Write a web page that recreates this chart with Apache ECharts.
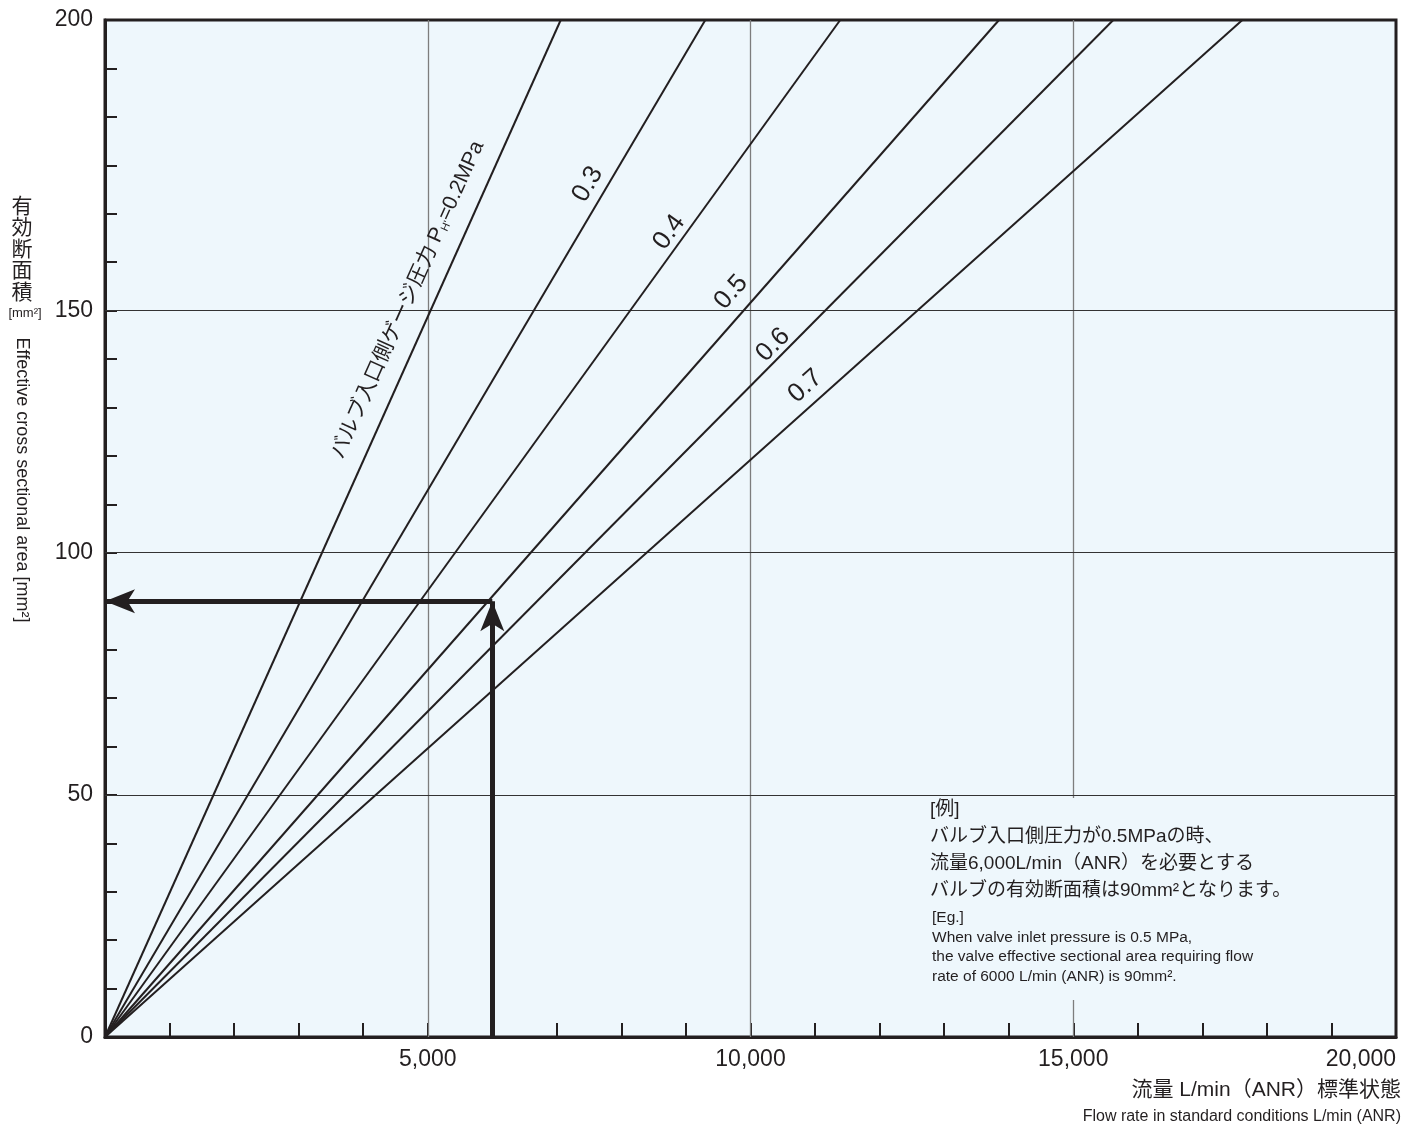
<!DOCTYPE html>
<html>
<head>
<meta charset="utf-8">
<title>有効断面積</title>
<script src="https://cdn.jsdelivr.net/npm/echarts@6.0.0/dist/echarts.min.js"></script>
<style>
  html, body { margin: 0; padding: 0; background: #fff; }
  #chart { width: 1418px; height: 1126px; }
</style>
</head>
<body>
<div id="chart"></div>
<script>
// inlet gauge pressure (MPa) of each line
var pressures = ['0.2', '0.3', '0.4', '0.5', '0.6', '0.7'];
// flow rate (L/min) where each line leaves the top of the plot
var flowAtTop = [7060, 9300, 11390, 13850, 15620, 17620];
var areaTop = 210;
// where the pressure labels sit along the lines
var labelFlow = [4690, 7480, 8740, 9700, 10350, 10850];
var labelArea = [152.2, 176.1, 166.2, 153.8, 142.9, 134.4];
// worked example: 6000 L/min at 0.5 MPa -> 90 mm2
var exampleFlow = 6000;
var exampleArea = 90;
// grid lines
var gridFlow = [5000, 10000, 15000];
var gridArea = [50, 100, 150];
// y tick labels (the top edge is printed as 200)
var yTickText = { 0: '0', 50: '50', 100: '100', 150: '150', 210: '200' };

var ink = '#231f20';
var latin = '"Liberation Sans", Arial, sans-serif';
var cjk = '"Liberation Sans", "Noto Sans CJK JP", sans-serif';

var myChart = echarts.init(document.getElementById('chart'));

var series = pressures.map(function (p, i) {
  return {
    name: p,
    type: 'line',
    data: [[0, 0], [flowAtTop[i], areaTop]],
    showSymbol: false,
    lineStyle: { color: ink, width: 2 },
    z: 3,
    silent: true
  };
});

// grid lines hang off the first series
series[0].markLine = {
  silent: true,
  symbol: ['none', 'none'],
  label: { show: false },
  z: 1,
  data: gridFlow.map(function (v) {
    return { xAxis: v, lineStyle: { color: '#7d7d7d', width: 1.3, type: 'solid' } };
  }).concat(gridArea.map(function (v) {
    return { yAxis: v, lineStyle: { color: '#333', width: 1.2, type: 'solid' } };
  }))
};

series.push({
  name: 'example',
  type: 'line',
  data: [],
  silent: true,
  markLine: {
    silent: true,
    symbol: ['none', 'arrow'],
    symbolSize: [18, 30],
    label: { show: false },
    lineStyle: { color: ink, width: 5, type: 'solid' },
    itemStyle: { color: ink },
    z: 5,
    data: [
      [{ coord: [exampleFlow, 0] }, { coord: [exampleFlow, exampleArea] }],
      [{ coord: [exampleFlow, exampleArea] }, { coord: [0, exampleArea] }]
    ]
  }
});

var option = {
  animation: false,
  grid: {
    left: 105,
    right: 22,
    top: 20,
    bottom: 89,
    outerBoundsMode: 'none',
    containLabel: false,
    show: true,
    backgroundColor: '#eef7fc',
    borderColor: ink,
    borderWidth: 3
  },
  xAxis: {
    type: 'value',
    min: 0,
    max: 20000,
    interval: 1000,
    axisLine: { lineStyle: { color: ink, width: 3 } },
    axisTick: { inside: true, length: 14, lineStyle: { color: ink, width: 2 } },
    splitLine: { show: false },
    axisLabel: {
      color: ink,
      fontSize: 23,
      fontFamily: latin,
      margin: 11,
      alignMaxLabel: 'right',
      formatter: function (v) {
        return v % 5000 === 0 && v > 0 ? v.toLocaleString('en-US') : '';
      }
    }
  },
  yAxis: {
    type: 'value',
    min: 0,
    max: areaTop,
    interval: 10,
    axisLine: { lineStyle: { color: ink, width: 3 } },
    axisTick: { inside: true, length: 12, lineStyle: { color: ink, width: 2 } },
    splitLine: { show: false },
    axisLabel: {
      color: ink,
      fontSize: 23,
      fontFamily: latin,
      margin: 12,
      formatter: function (v) {
        return yTickText[v] !== undefined ? yTickText[v] : '';
      }
    }
  },
  series: series
};
myChart.setOption(option);

// text laid over the plot
function labels() {
  var g = [];
  pressures.forEach(function (p, i) {
    var a = myChart.convertToPixel({ gridIndex: 0 }, [0, 0]);
    var b = myChart.convertToPixel({ gridIndex: 0 }, [flowAtTop[i], areaTop]);
    var ang = Math.atan2(a[1] - b[1], b[0] - a[0]);
    var pos = myChart.convertToPixel({ gridIndex: 0 }, [labelFlow[i], labelArea[i]]);
    var first = i === 0;
    g.push({
      type: 'text',
      x: pos[0],
      y: pos[1],
      rotation: ang,
      z: 10,
      style: {
        text: first ? 'バルブ入口側ゲージ圧力 P{s|H\'}=0.2MPa' : p,
        fill: ink,
        font: (first ? '21px ' : '26px ') + cjk,
        align: 'center',
        verticalAlign: 'middle',
        rich: {
          s: { fontSize: 11, fill: ink, fontFamily: latin, verticalAlign: 'bottom', padding: [9, 0, 0, 0] }
        }
      }
    });
  });

  // example note, its box hides the grid line behind it
  g.push({
    type: 'rect',
    z: 8,
    shape: { x: 920, y: 798, width: 385, height: 202 },
    style: { fill: '#eef7fc' }
  });
  g.push({
    type: 'text', x: 930, y: 796, z: 9,
    style: {
      text: '[例]\nバルブ入口側圧力が0.5MPaの時、\n流量6,000L/min（ANR）を必要とする\nバルブの有効断面積は90mm²となります。',
      font: '19px ' + cjk, lineHeight: 27, fill: ink
    }
  });
  g.push({
    type: 'text', x: 932, y: 908, z: 9,
    style: {
      text: '[Eg.]\nWhen valve inlet pressure is 0.5 MPa,\nthe valve effective sectional area requiring flow\nrate of 6000 L/min (ANR) is 90mm².',
      font: '15.5px ' + latin, lineHeight: 19.5, fill: ink
    }
  });

  // axis names
  g.push({
    type: 'text', x: 22, y: 194, z: 9,
    style: { text: '有\n効\n断\n面\n積', font: '21px "Noto Sans CJK JP", sans-serif', lineHeight: 21.5, align: 'center', fill: ink }
  });
  g.push({
    type: 'text', x: 25, y: 313, z: 9,
    style: { text: '[mm²]', font: '13px ' + latin, align: 'center', verticalAlign: 'middle', fill: ink }
  });
  g.push({
    type: 'text', x: 22, y: 480, z: 9, rotation: -Math.PI / 2,
    style: { text: 'Effective cross sectional area [mm²]', font: '18px ' + latin, align: 'center', verticalAlign: 'middle', fill: ink }
  });
  g.push({
    type: 'text', x: 1401, y: 1090, z: 9,
    style: { text: '流量 L/min（ANR）標準状態', font: '21px ' + cjk, align: 'right', verticalAlign: 'middle', fill: ink }
  });
  g.push({
    type: 'text', x: 1401, y: 1117, z: 9,
    style: { text: 'Flow rate in standard conditions L/min (ANR)', font: '16px ' + latin, align: 'right', verticalAlign: 'middle', fill: ink }
  });
  return g;
}

myChart.setOption({ graphic: labels() });
</script>
</body>
</html>
